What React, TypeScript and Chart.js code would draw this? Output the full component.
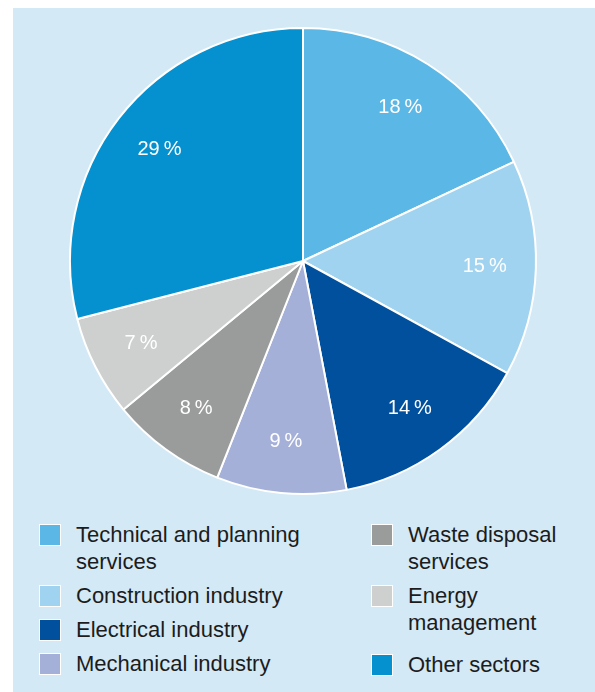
import React, { useEffect, useRef } from "react";
import { Chart, registerables } from "chart.js";

Chart.register(...registerables);

const categories = [
  "Technical and planning services",
  "Construction industry",
  "Electrical industry",
  "Mechanical industry",
  "Waste disposal services",
  "Energy management",
  "Other sectors",
];
const shares = [18, 15, 14, 9, 8, 7, 29];
const sliceColors = ["#5bb7e5", "#a0d3ef", "#00509e", "#a5b0d9", "#9a9b9b", "#ced0d0", "#0591d0"];
const leftLegend = [0, 1, 2, 3];
const rightLegend = [4, 5, 6];

const FONT = "'Liberation Sans', Arial, Helvetica, sans-serif";

const labelPlugin = {
  id: "sliceLabels",
  afterDatasetsDraw(chart: any) {
    const ctx = chart.ctx;
    const meta = chart.getDatasetMeta(0);
    ctx.save();
    ctx.fillStyle = "#ffffff";
    ctx.font = `20px ${FONT}`;
    ctx.textAlign = "center";
    ctx.textBaseline = "middle";
    meta.data.forEach((arc: any, i: number) => {
      const p = arc.getProps(["x", "y", "startAngle", "endAngle", "outerRadius"], true);
      const mid = (p.startAngle + p.endAngle) / 2;
      const r = p.outerRadius * 0.78;
      ctx.fillText(`${shares[i]}\u2009%`, p.x + Math.cos(mid) * r, p.y + Math.sin(mid) * r);
    });
    ctx.restore();
  },
};

function LegendItem({ idx, width, extraTop }: { idx: number; width: number; extraTop?: number }) {
  return (
    <div style={{ position: "relative", paddingLeft: 37, marginTop: extraTop || 0 }}>
      <div
        style={{
          position: "absolute",
          left: 0,
          top: 2.5,
          width: 20,
          height: 20,
          background: sliceColors[idx],
          border: "1px solid #ffffff",
        }}
      />
      <div style={{ width, lineHeight: "27px", fontSize: 22, color: "#1c1c1c" }}>{categories[idx]}</div>
    </div>
  );
}

export default function App() {
  const canvasRef = useRef<HTMLCanvasElement | null>(null);

  useEffect(() => {
    if (!canvasRef.current) return;
    const chart = new Chart(canvasRef.current, {
      type: "pie",
      data: {
        labels: categories,
        datasets: [
          {
            data: shares,
            backgroundColor: sliceColors,
            borderColor: "#ffffff",
            borderWidth: 2,
          },
        ],
      },
      options: {
        responsive: false,
        animation: false,
        layout: { padding: 6 },
        plugins: { legend: { display: false }, tooltip: { enabled: false } },
      },
      plugins: [labelPlugin],
    });
    return () => chart.destroy();
  }, []);

  return (
    <div
      style={{
        position: "absolute",
        left: 0,
        top: 0,
        width: 595,
        height: 692,
        overflow: "hidden",
        background: "#ffffff",
        fontFamily: FONT,
      }}
    >
      <div
        style={{
          position: "absolute",
          left: 13,
          top: 8,
          width: 582,
          height: 684,
          background: "#d3e9f6",
        }}
      />
      <canvas
        ref={canvasRef}
        width={480}
        height={480}
        style={{ position: "absolute", left: 63, top: 21, width: 480, height: 480 }}
      />
      <div
        style={{
          position: "absolute",
          left: 39,
          top: 521,
          display: "flex",
          flexDirection: "column",
          gap: 7,
        }}
      >
        {leftLegend.map((i) => (
          <LegendItem key={i} idx={i} width={245} />
        ))}
      </div>
      <div
        style={{
          position: "absolute",
          left: 371,
          top: 521,
          display: "flex",
          flexDirection: "column",
          gap: 7,
        }}
      >
        {rightLegend.map((i, k) => (
          <LegendItem key={i} idx={i} width={180} extraTop={k === 2 ? 8 : 0} />
        ))}
      </div>
    </div>
  );
}
